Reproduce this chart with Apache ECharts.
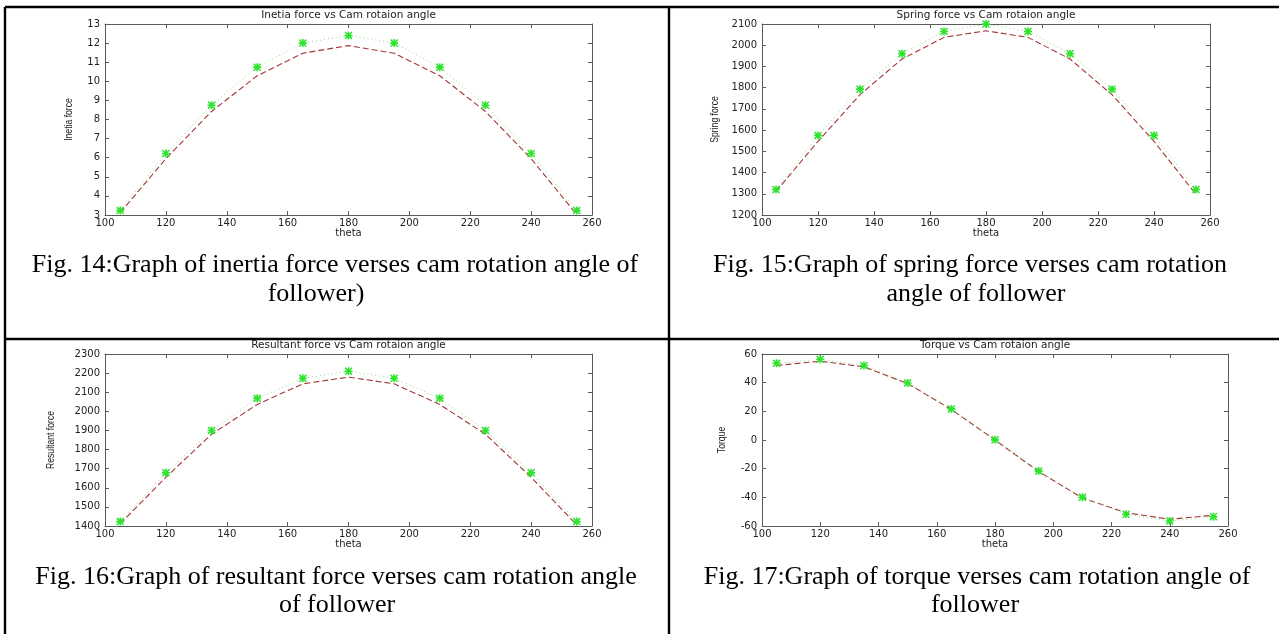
<!DOCTYPE html>
<html><head><meta charset="utf-8">
<script src="https://cdn.jsdelivr.net/npm/echarts@6/dist/echarts.min.js"></script>
<style>html,body{margin:0;padding:0;background:#fff}#c{width:1279px;height:634px}</style>
</head><body><div id="c"></div>
<script>
// ---------- data ----------
const theta = [105,120,135,150,165,180,195,210,225,240,255];

const inertiaStar = [3.23,6.22,8.75,10.74,12.0,12.4,12.0,10.74,8.75,6.22,3.23];
const inertiaLine = [3.12,5.95,8.42,10.29,11.47,11.87,11.47,10.29,8.42,5.95,3.02];

const springStar = [1320,1575,1793,1960,2065,2100,2065,1960,1793,1575,1320];
const springLine = [1311,1547,1767,1935,2037,2068,2037,1935,1767,1547,1297];

const resultStar = [1423,1678,1900,2068,2173,2210,2173,2068,1900,1678,1423];
const resultLine = [1412,1655,1880,2036,2144,2179,2144,2036,1880,1655,1405];

const torqueStar = [53.5,56.3,51.9,39.8,21.7,0.1,-21.7,-40.0,-51.8,-56.5,-53.5];
const torqueLine = [52,55,51,39.4,21.3,0,-22,-40.5,-50.7,-55.3,-52.5];

const plotTitles = ['Inetia force vs Cam rotaion angle','Spring force vs Cam rotaion angle',
                    'Resultant force vs Cam rotaion angle','Torque vs Cam rotaion angle'];
const yNames = ['Inetia force','Spring force','Resultant force','Torque'];
const xName = 'theta';
const yRanges = [[3,13,1],[1200,2100,100],[1400,2300,100],[-60,60,20]];
const xRange = [100,260,20];
const captions = [
  ['Fig. 14:Graph of inertia force verses cam rotation angle of','follower)'],
  ['Fig. 15:Graph of spring force verses cam rotation','angle of follower'],
  ['Fig. 16:Graph of resultant force verses cam rotation angle','of follower'],
  ['Fig. 17:Graph of torque verses cam rotation angle of','follower']
];
const starSeries = [inertiaStar, springStar, resultStar, torqueStar];
const lineSeries = [inertiaLine, springLine, resultLine, torqueLine];

// ---------- layout ----------
const grids = [
  {left:105, top:24, width:487, height:191},
  {left:762, top:24, width:448, height:191},
  {left:105, top:354, width:487, height:172},
  {left:762, top:354, width:466, height:172}
];
const titleY = [15,15,345,345];
const yNameX = [69,715,51,722];
const capPos = [
  [[335,265],[316,294]],
  [[970,265],[976,294]],
  [[336,577],[337,605]],
  [[977,577],[975,605]]
];

const STAR = 'path://M4 0H6V10H4Z M0 4H10V6H0Z M1.4 0L10 8.6L8.6 10L0 1.4Z M8.6 0L10 1.4L1.4 10L0 8.6Z';
const AX = '#5a5a5a';
const TXT = '#222';
const plain = v => String(v);
const tickFont = {fontFamily:'DejaVu Sans', fontSize:10, color:TXT, formatter:plain};

const option = {animation:false, backgroundColor:'#fff', grid:[], xAxis:[], yAxis:[], series:[], graphic:[]};

grids.forEach((g,i)=>{
  option.grid.push(Object.assign({containLabel:false, show:false}, g));
  const [ymin,ymax,yint] = yRanges[i];
  const xb = option.xAxis.length;
  option.xAxis.push({
    type:'value', gridIndex:i, position:'bottom', min:xRange[0], max:xRange[1], interval:xRange[2],
    axisLine:{show:true, onZero:false, lineStyle:{color:AX, width:1}},
    axisTick:{show:true, inside:true, length:4, lineStyle:{color:AX}},
    axisLabel:Object.assign({margin:3}, tickFont),
    splitLine:{show:false},
    name:xName, nameLocation:'middle', nameGap:10,
    nameTextStyle:{fontFamily:'DejaVu Sans', fontSize:10, color:TXT, verticalAlign:'top'}
  });
  option.xAxis.push({
    type:'value', gridIndex:i, position:'top', min:xRange[0], max:xRange[1], interval:xRange[2],
    axisLine:{show:true, onZero:false, lineStyle:{color:AX, width:1}},
    axisTick:{show:true, inside:true, length:4, lineStyle:{color:AX}},
    axisLabel:{show:false}, splitLine:{show:false}
  });
  const yb = option.yAxis.length;
  option.yAxis.push({
    type:'value', gridIndex:i, position:'left', min:ymin, max:ymax, interval:yint,
    axisLine:{show:true, onZero:false, lineStyle:{color:AX, width:1}},
    axisTick:{show:true, inside:true, length:4, lineStyle:{color:AX}},
    axisLabel:Object.assign({margin:5}, tickFont),
    splitLine:{show:false}
  });
  option.yAxis.push({
    type:'value', gridIndex:i, position:'right', min:ymin, max:ymax, interval:yint,
    axisLine:{show:true, onZero:false, lineStyle:{color:AX, width:1}},
    axisTick:{show:true, inside:true, length:4, lineStyle:{color:AX}},
    axisLabel:{show:false}, splitLine:{show:false}
  });
  option.series.push({
    type:'line', xAxisIndex:xb, yAxisIndex:yb, showSymbol:true,
    data: theta.map((t,k)=>[t, starSeries[i][k]]),
    symbol:STAR, symbolSize:8,
    itemStyle:{color:'#2ee32e'},
    lineStyle:{color:'#8fdc8f', width:1, type:[1,3]},
    z:3
  });
  option.series.push({
    type:'line', xAxisIndex:xb, yAxisIndex:yb, showSymbol:false, symbol:'none',
    data: theta.map((t,k)=>[t, lineSeries[i][k]]),
    lineStyle:{color:'#a33535', width:1.1, type:[6,3]},
    z:2
  });
  option.graphic.push({type:'text', x:g.left+g.width/2, y:titleY[i], silent:true,
    style:{text:plotTitles[i], font:'10.5px "DejaVu Sans"', fill:TXT,
      textAlign:'center', textVerticalAlign:'middle', align:'center', verticalAlign:'middle'}});
  option.graphic.push({type:'text', x:yNameX[i], y:g.top+g.height/2, rotation:Math.PI/2, scaleX:0.75, silent:true,
    style:{text:yNames[i], font:'11.5px "Liberation Sans"', fill:TXT,
      textAlign:'center', textVerticalAlign:'middle', align:'center', verticalAlign:'middle'}});
  captions[i].forEach((c,j)=>{
    option.graphic.push({type:'text', x:capPos[i][j][0], y:capPos[i][j][1], silent:true,
      style:{text:c, font:'26px "Liberation Serif"', fill:'#000',
        textAlign:'center', textVerticalAlign:'middle', align:'center', verticalAlign:'middle'}});
  });
});

const B = (x1,y1,x2,y2)=>({type:'line', silent:true, shape:{x1,y1,x2,y2}, style:{stroke:'#000', lineWidth:2.4}});
option.graphic.push(B(5,7,1279,7));
option.graphic.push(B(5,7,5,634));
option.graphic.push(B(669,7,669,634));
option.graphic.push(B(5,339,1279,339));

const chart = echarts.init(document.getElementById('c'));
chart.setOption(option);
</script></body></html>
